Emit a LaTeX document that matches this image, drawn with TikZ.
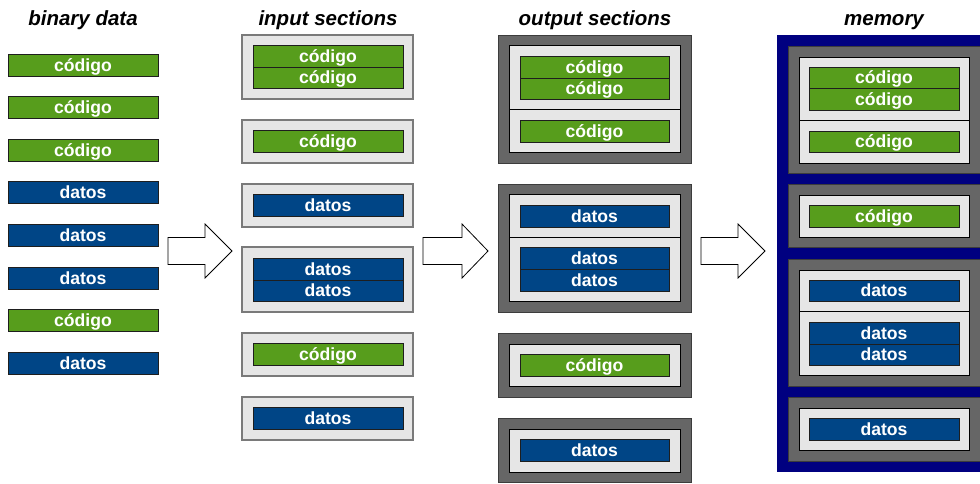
\documentclass[tikz,border=0pt]{standalone}
\usepackage{fontspec}
\setmainfont{Liberation Sans}
\definecolor{codegreen}{HTML}{579D1C}
\definecolor{datablue}{HTML}{004586}
\definecolor{secfill}{HTML}{E6E6E6}
\definecolor{secedge}{HTML}{7A7A7A}
\definecolor{outfill}{HTML}{666666}
\definecolor{outedge}{HTML}{3C3C3C}
\definecolor{memnavy}{HTML}{000080}
\definecolor{boxedge}{HTML}{1E1E1E}

% box with given corners (x1,y1) top-left and (x2,y2) bottom-right, y grows downward
\newcommand{\blk}[7]{%
  \pgfmathsetmacro{\bw}{#5-#3}\pgfmathsetmacro{\bh}{#6-#4}%
  \node[#2, anchor=north west, minimum width=\bw pt, minimum height=\bh pt] (#1) at (#3,#4) {#7};}
% block arrow, tail centre at (#2,#3), head base at +#4, tip at +#5
\newcommand{\blockarrow}[5]{%
  \coordinate (#1) at (#2,#3);
  \draw[bigarrow] (#1) ++(0,-13.5) -- ++(#4,0) -- ++(0,-13.5) -- ($(#1)+(#5,0)$)
     -- ($(#1)+(#4,27)$) -- ++(0,-13.5) -- ($(#1)+(0,13.5)$) -- cycle;}

\usetikzlibrary{calc}
\begin{document}
\begin{tikzpicture}[x=1pt,y=-1pt,
  every node/.style={inner sep=0pt, outer sep=0pt},
  box/.style={rectangle, draw=boxedge, line width=0.9pt, text=white,
    text height=14.5pt, text depth=2pt,
    font=\fontsize{17.6}{20}\selectfont\bfseries},
  code/.style={box, fill=codegreen},
  data/.style={box, fill=datablue},
  insec/.style={rectangle, fill=secfill, draw=secedge, line width=1.5pt},
  lightsec/.style={rectangle, fill=secfill, draw=black, line width=0.9pt},
  outsec/.style={rectangle, fill=outfill, draw=outedge, line width=1pt},
  mem/.style={rectangle, fill=memnavy, draw=memnavy, line width=1pt},
  title/.style={anchor=base, font=\fontsize{20.5}{24}\selectfont\bfseries\itshape},
  bigarrow/.style={draw=black, fill=white, line width=0.8pt, line join=miter}]
\useasboundingbox (0,0) rectangle (980,483);
\begin{scope}
\clip (0,0) rectangle (980,483);

% column titles
\node[title] (t1) at (83,25) {binary data};
\node[title] (t2) at (328,25) {input sections};
\node[title] (t3) at (595,25) {output sections};
\node[title] (t4) at (884,25) {memory};

% binary data
\blk{b1}{code}{8}{54}{158}{76}{código}
\blk{b2}{code}{8}{96}{158}{118}{código}
\blk{b3}{code}{8}{139}{158}{161}{código}
\blk{b4}{data}{8}{181}{158}{203}{datos}
\blk{b5}{data}{8}{224}{158}{246}{datos}
\blk{b6}{data}{8}{267}{158}{289}{datos}
\blk{b7}{code}{8}{309}{158}{331}{código}
\blk{b8}{data}{8}{352}{158}{374}{datos}

% input sections
\blk{i1}{insec}{242}{35}{413}{99}{}
\blk{i1a}{code}{253}{45}{403}{67}{código}
\blk{i1b}{code}{253}{67}{403}{88}{código}
\blk{i2}{insec}{242}{120}{413}{163}{}
\blk{i2a}{code}{253}{130}{403}{152}{código}
\blk{i3}{insec}{242}{184}{413}{227}{}
\blk{i3a}{data}{253}{194}{403}{216}{datos}
\blk{i4}{insec}{242}{247}{413}{312}{}
\blk{i4a}{data}{253}{258}{403}{280}{datos}
\blk{i4b}{data}{253}{280}{403}{301}{datos}
\blk{i5}{insec}{242}{333}{413}{376}{}
\blk{i5a}{code}{253}{343}{403}{365}{código}
\blk{i6}{insec}{242}{397}{413}{440}{}
\blk{i6a}{data}{253}{407}{403}{429}{datos}

% output sections
\blk{o1}{outsec}{498}{35}{691}{163}{}
\blk{o1s}{lightsec}{509}{45}{680}{109}{}
\blk{o1t}{lightsec}{509}{109}{680}{152}{}
\blk{o1a}{code}{520}{56}{669}{78}{código}
\blk{o1b}{code}{520}{78}{669}{99}{código}
\blk{o1c}{code}{520}{120}{669}{142}{código}
\blk{o2}{outsec}{498}{184}{691}{312}{}
\blk{o2s}{lightsec}{509}{194}{680}{237}{}
\blk{o2t}{lightsec}{509}{237}{680}{301}{}
\blk{o2a}{data}{520}{205}{669}{227}{datos}
\blk{o2b}{data}{520}{247}{669}{269}{datos}
\blk{o2c}{data}{520}{269}{669}{291}{datos}
\blk{o3}{outsec}{498}{333}{691}{397}{}
\blk{o3s}{lightsec}{509}{344}{680}{386}{}
\blk{o3a}{code}{520}{354}{669}{376}{código}
\blk{o4}{outsec}{498}{418}{691}{482}{}
\blk{o4s}{lightsec}{509}{429}{680}{472}{}
\blk{o4a}{data}{520}{439}{669}{461}{datos}

% memory
\blk{m}{mem}{777}{35}{990}{471}{}
\blk{m1}{outsec}{788}{46}{980}{173}{}
\blk{m1s}{lightsec}{799}{57}{969}{120}{}
\blk{m1t}{lightsec}{799}{120}{969}{163}{}
\blk{m1a}{code}{809}{67}{959}{88}{código}
\blk{m1b}{code}{809}{88}{959}{110}{código}
\blk{m1c}{code}{809}{131}{959}{152}{código}
\blk{m2}{outsec}{788}{184}{980}{247}{}
\blk{m2s}{lightsec}{799}{195}{969}{237}{}
\blk{m2a}{code}{809}{205}{959}{227}{código}
\blk{m3}{outsec}{788}{259}{980}{386}{}
\blk{m3s}{lightsec}{799}{270}{969}{311}{}
\blk{m3t}{lightsec}{799}{311}{969}{375}{}
\blk{m3a}{data}{809}{280}{959}{301}{datos}
\blk{m3b}{data}{809}{322}{959}{344}{datos}
\blk{m3c}{data}{809}{344}{959}{365}{datos}
\blk{m4}{outsec}{788}{397}{980}{461}{}
\blk{m4s}{lightsec}{799}{408}{969}{450}{}
\blk{m4a}{data}{809}{418}{959}{440}{datos}

% block arrows between the columns
\blockarrow{a1}{168}{251}{37}{64}
\blockarrow{a2}{423}{251}{39}{65}
\blockarrow{a3}{701}{251}{37}{64}
\end{scope}
\end{tikzpicture}
\end{document}
